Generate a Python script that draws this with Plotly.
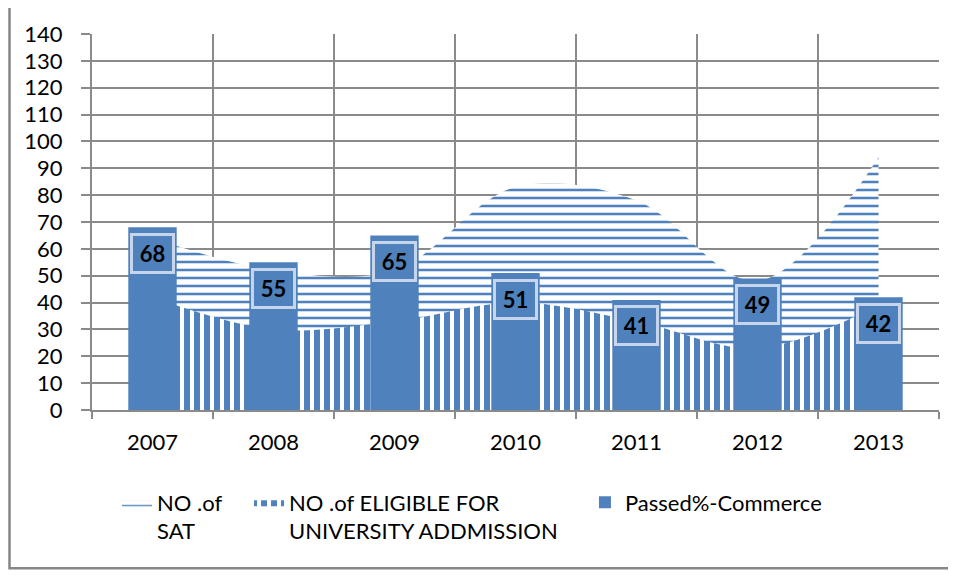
import plotly.graph_objects as go

years = ["2007", "2008", "2009", "2010", "2011", "2012", "2013"]
sat_values = [64, 52, 52, 83, 78, 48, 94]
eligible_values = [42, 30, 33, 40, 33, 23, 39]
passed_values = [68, 55, 65, 51, 41, 49, 42]
y_ticks = list(range(0, 141, 10))

name_sat = "NO .of<br>SAT"
name_eligible = "NO .of ELIGIBLE FOR<br>UNIVERSITY ADDMISSION"
name_passed = "Passed%-Commerce"

BLUE = "#4F81BD"
GRID = "#8a8a8a"
FONT = "Lato"

fig = go.Figure()

fig.add_trace(go.Scatter(
    x=years, y=sat_values, name=name_sat, mode="lines",
    line=dict(shape="spline", width=0, color=BLUE),
    fill="tozeroy", fillcolor="white",
    fillpattern=dict(shape="-", fgcolor=BLUE, bgcolor="white", fgopacity=1,
                     fillmode="replace", size=8, solidity=0.32),
    xaxis="x", yaxis="y", legend="legend",
))
fig.add_trace(go.Scatter(
    x=years, y=eligible_values, name=name_eligible, mode="lines",
    line=dict(shape="spline", width=0, color=BLUE),
    fill="tozeroy", fillcolor="white",
    fillpattern=dict(shape="|", fgcolor=BLUE, bgcolor="white", fgopacity=1,
                     fillmode="replace", size=10, solidity=0.6),
    xaxis="x", yaxis="y", legend="legend2",
))
fig.add_trace(go.Bar(
    x=years, y=passed_values, name=name_passed, width=0.4,
    marker=dict(color=BLUE, line=dict(width=0)),
    xaxis="x2", yaxis="y2", legend="legend3",
))

annotations = []
for i, v in enumerate(passed_values):
    annotations.append(dict(
        x=i, y=v, xref="x", yref="y", text="\u2009<b>%d</b>\u2009" % v,
        showarrow=False, yshift=-26, xanchor="center", yanchor="middle",
        bgcolor=BLUE, bordercolor="#c6d5ec", borderwidth=3, borderpad=4,
        font=dict(family=FONT, size=22, color="black"),
    ))

legend_common = dict(orientation="h", yanchor="top", xanchor="left", valign="top",
                     font=dict(family=FONT, size=22, color="black"),
                     bgcolor="rgba(0,0,0,0)", itemwidth=30, tracegroupgap=0)

fig.update_layout(
    width=948, height=567,
    margin=dict(l=84, r=17, t=19, b=164.5),
    paper_bgcolor="white", plot_bgcolor="white",
    font=dict(family=FONT, size=22, color="black"),
    showlegend=True,
    annotations=annotations,
    shapes=[dict(type="rect", xref="paper", yref="paper",
                 x0=-0.0974, y0=-0.421, x1=1.06, y1=1.1,
                 line=dict(color="#868686", width=2.5), fillcolor="rgba(0,0,0,0)", layer="below")],
    legend=dict(x=0.0295, y=-0.19, **legend_common),
    legend2=dict(x=0.1854, y=-0.19, **legend_common),
    legend3=dict(x=0.582, y=-0.19, **legend_common),
    xaxis=dict(type="category", categoryorder="array", categoryarray=years,
               range=[-0.5, 6.5], tickson="boundaries", ticks="outside", ticklen=7,
               tickcolor=GRID, tickwidth=2, showgrid=True, gridcolor=GRID, gridwidth=2,
               showline=True, linecolor=GRID, linewidth=2, ticklabelstandoff=12,
               tickfont=dict(family=FONT, size=22, color="black"), zeroline=False),
    yaxis=dict(range=[0, 140], tickvals=y_ticks, ticks="outside", ticklen=9,
               tickcolor=GRID, tickwidth=2, showgrid=True, gridcolor=GRID, gridwidth=2,
               showline=True, linecolor=GRID, linewidth=2, ticklabelstandoff=14,
               tickfont=dict(family=FONT, size=22, color="black"), zeroline=False),
    xaxis2=dict(type="category", categoryorder="array", categoryarray=years,
                range=[-0.5, 6.5], overlaying="x", visible=False),
    yaxis2=dict(range=[0, 140], overlaying="y", visible=False),
)

fig.write_html("out.html")
